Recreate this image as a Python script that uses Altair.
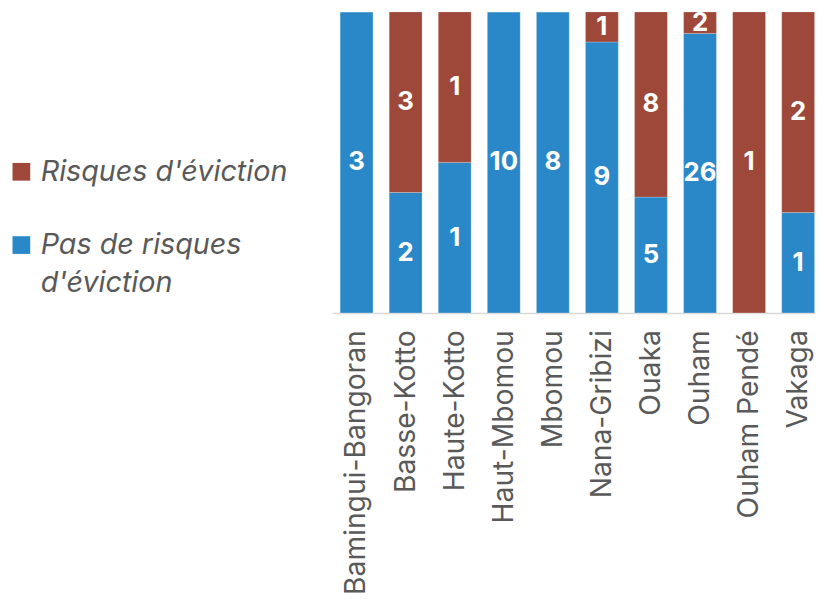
import altair as alt
import pandas as pd

regions = ["Bamingui-Bangoran", "Basse-Kotto", "Haute-Kotto", "Haut-Mbomou", "Mbomou",
           "Nana-Gribizi", "Ouaka", "Ouham", "Ouham Pendé", "Vakaga"]
pas_risques = [3, 2, 1, 10, 8, 9, 5, 26, 0, 1]
risques = [0, 3, 1, 0, 0, 1, 8, 2, 1, 2]

S_RISK = "Risques d'éviction"
S_PAS = "Pas de risques d'éviction"
series = [S_RISK, S_PAS]
colors = ["#9E483A", "#2B88C8"]

rows = []
for r, p, k in zip(regions, pas_risques, risques):
    rows.append({"region": r, "serie": S_PAS, "value": p, "ord": 0})
    rows.append({"region": r, "serie": S_RISK, "value": k, "ord": 1})
df = pd.DataFrame(rows)

FONT = "Inter"
GRAY = "#595959"

base = alt.Chart(df).transform_stack(
    stack="value", groupby=["region"], as_=["y0", "y1"], offset="normalize",
    sort=[alt.SortField("ord", order="ascending")]
).transform_calculate(mid="(datum.y0 + datum.y1) / 2")

xscale = alt.Scale(paddingInner=0.33, paddingOuter=0.17, range=[0, 496])

x_enc = alt.X("region:N", sort=regions, title=None, scale=xscale,
              axis=alt.Axis(labelAngle=-90, labelAlign="right", labelBaseline="middle",
                            labelPadding=17, ticks=False, domainColor="#D9D9D9",
                            domainWidth=1.5, labelFont=FONT, labelFontSize=28.5,
                            labelLineHeight=28.5,
                            labelColor=GRAY, labelLimit=400))

legend_expr = ('datum.label == "Pas de risques d\'éviction" ? '
               '["Pas de risques", "d\'éviction"] : datum.label')

bars = base.mark_bar(stroke="white", strokeWidth=0.6, strokeOpacity=0.4).encode(
    x=x_enc,
    y=alt.Y("y0:Q", scale=alt.Scale(domain=[0, 1]), axis=None),
    y2="y1:Q",
    color=alt.Color("serie:N", scale=alt.Scale(domain=series, range=colors),
                    legend=alt.Legend(title=None, orient="none", legendX=-328, legendY=147,
                                      symbolType="square", symbolSize=320,
                                      symbolStrokeWidth=0, labelFont=FONT,
                                      labelFontSize=29, labelFontStyle="italic",
                                      labelColor=GRAY, labelLimit=400, rowPadding=44,
                                      labelOffset=5, labelExpr=legend_expr)),
)

labels = base.transform_filter("datum.value > 0").mark_text(
    color="white", font=FONT, fontSize=26, fontWeight="bold", baseline="middle"
).encode(
    x=alt.X("region:N", sort=regions),
    y=alt.Y("mid:Q", scale=alt.Scale(domain=[0, 1])),
    text="value:Q",
)

chart = alt.layer(bars, labels).properties(
    width=488, height=304,
    autosize=alt.AutoSizeParams(type="none"),
    padding={"left": 327, "top": 1, "right": 0, "bottom": 283},
).configure(style={"guide-label": {"lineHeight": 38}}).configure_view(stroke=None)

chart.save("out.html", embed_options={"renderer": "svg", "actions": False})
